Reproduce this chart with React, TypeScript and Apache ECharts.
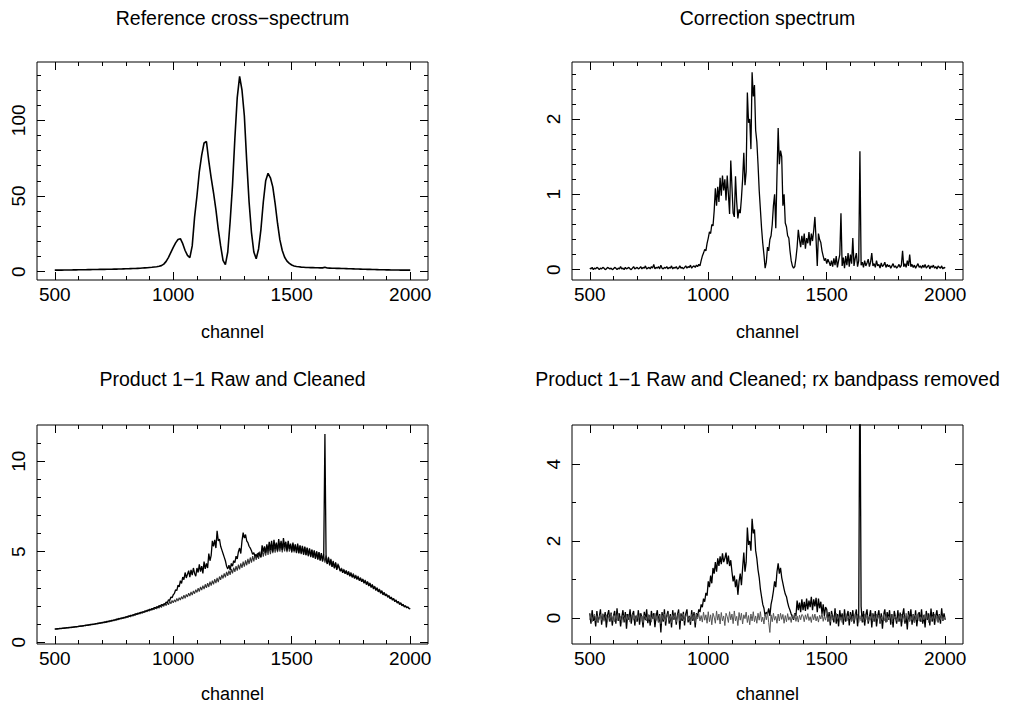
import React, { useEffect, useRef } from 'react';
import * as echarts from 'echarts';

// Every spectrum starts at channel 500; the smooth reference is sampled
// every 10 channels, the noisy spectra every 5 channels.
const CHANNEL_START = 500;

// Reference cross-spectrum (10-channel steps, one row per 100 channels)
const REFERENCE = [
  1.00, 1.00, 1.05, 1.05, 1.10, 1.10, 1.15, 1.15, 1.20, 1.20, // 500
  1.25, 1.25, 1.30, 1.30, 1.35, 1.35, 1.40, 1.40, 1.45, 1.50, // 600
  1.50, 1.55, 1.60, 1.60, 1.65, 1.70, 1.70, 1.75, 1.80, 1.85, // 700
  1.90, 1.95, 2.00, 2.05, 2.10, 2.20, 2.30, 2.40, 2.50, 2.60, // 800
  2.75, 2.90, 3.10, 3.30, 3.60, 4.00, 5.00, 6.80, 9.50, 12.8, // 900
  16.0, 19.0, 21.2, 21.8, 18.5, 14.0, 10.8, 9.3, 17.0, 36.0, // 1000
  50.0, 66.0, 77.0, 85.0, 86.0, 73.0, 62.0, 52.0, 41.0, 28.0, // 1100
  17.0, 7.5, 4.6, 13.0, 33.0, 57.0, 88.0, 115.0, 129.0, 120.0, // 1200
  103.0, 73.0, 46.0, 26.0, 13.0, 8.5, 15.0, 28.0, 46.0, 60.0, // 1300
  65.0, 62.0, 56.0, 45.0, 32.0, 21.0, 14.0, 9.5, 7.0, 5.5, // 1400
  4.4, 3.8, 3.4, 3.2, 3.0, 2.9, 2.8, 2.75, 2.7, 2.65, // 1500
  2.6, 2.55, 2.5, 2.5, 2.9, 2.4, 2.35, 2.3, 2.25, 2.2, // 1600
  2.15, 2.1, 2.05, 2.0, 1.95, 1.9, 1.85, 1.8, 1.75, 1.7, // 1700
  1.65, 1.6, 1.55, 1.5, 1.45, 1.4, 1.35, 1.3, 1.3, 1.25, // 1800
  1.2, 1.2, 1.15, 1.15, 1.1, 1.1, 1.05, 1.05, 1.0, 1.0, // 1900
  1.0, // 2000
];

// Correction spectrum (5-channel steps, one row per 100 channels)
const CORRECTION = [
  0.02, 0.01, 0.03, 0.00, 0.02, 0.01, 0.03, 0.02, 0.00, 0.02, 0.01, 0.03, 0.02, 0.00, 0.01, 0.03, 0.02, 0.01, 0.02, 0.00, // 500
  0.01, 0.03, 0.02, 0.00, 0.02, 0.01, 0.04, 0.01, 0.02, 0.00, 0.03, 0.01, 0.02, 0.03, 0.01, 0.00, 0.02, 0.04, 0.01, 0.02, // 600
  0.03, 0.01, 0.02, 0.04, 0.01, 0.03, 0.02, 0.05, 0.01, 0.02, 0.03, 0.01, 0.04, 0.02, 0.07, 0.01, 0.03, 0.02, 0.04, 0.01, // 700
  0.06, 0.02, 0.01, 0.03, 0.02, 0.04, 0.01, 0.03, 0.02, 0.05, 0.01, 0.03, 0.02, 0.04, 0.01, 0.02, 0.05, 0.02, 0.03, 0.01, // 800
  0.03, 0.05, 0.02, 0.04, 0.03, 0.06, 0.02, 0.04, 0.05, 0.03, 0.06, 0.04, 0.07, 0.05, 0.12, 0.18, 0.22, 0.27, 0.25, 0.35, // 900
  0.42, 0.50, 0.48, 0.60, 0.58, 0.78, 1.08, 0.85, 1.10, 0.90, 1.22, 0.98, 1.25, 1.05, 1.20, 0.92, 1.25, 1.00, 0.74, 1.45, // 1000
  1.10, 0.75, 0.70, 1.24, 0.90, 0.68, 0.80, 0.75, 0.95, 1.20, 1.55, 1.12, 1.30, 2.35, 1.95, 2.00, 1.60, 2.62, 2.30, 2.45, // 1100
  1.85, 1.70, 1.40, 1.05, 0.80, 0.55, 0.35, 0.20, 0.02, 0.10, 0.30, 0.25, 0.40, 0.45, 0.60, 0.85, 1.00, 0.55, 1.25, 1.88, // 1200
  1.40, 1.58, 1.50, 0.85, 1.00, 0.62, 0.57, 0.45, 0.42, 0.25, 0.12, 0.05, 0.02, 0.04, 0.15, 0.30, 0.53, 0.40, 0.30, 0.45, // 1300
  0.33, 0.48, 0.28, 0.42, 0.35, 0.50, 0.32, 0.48, 0.38, 0.52, 0.70, 0.40, 0.05, 0.48, 0.40, 0.36, 0.25, 0.18, 0.12, 0.15, // 1400
  0.08, 0.14, 0.10, 0.05, 0.12, 0.04, 0.15, 0.06, 0.18, 0.03, 0.12, 0.20, 0.75, 0.05, 0.16, 0.02, 0.18, 0.06, 0.22, 0.04, // 1500
  0.20, 0.08, 0.42, 0.05, 0.15, 0.22, 0.04, 0.12, 1.57, 0.06, 0.10, 0.03, 0.12, 0.05, 0.09, 0.14, 0.04, 0.10, 0.22, 0.05, // 1600
  0.08, 0.03, 0.12, 0.05, 0.07, 0.02, 0.09, 0.04, 0.06, 0.10, 0.03, 0.07, 0.04, 0.06, 0.02, 0.05, 0.08, 0.03, 0.05, 0.02, // 1700
  0.04, 0.07, 0.03, 0.06, 0.25, 0.04, 0.08, 0.03, 0.12, 0.05, 0.20, 0.04, 0.07, 0.03, 0.06, 0.02, 0.05, 0.08, 0.03, 0.05, // 1800
  0.02, 0.06, 0.03, 0.07, 0.02, 0.04, 0.06, 0.01, 0.05, 0.03, 0.06, 0.02, 0.04, 0.01, 0.05, 0.03, 0.02, 0.05, 0.01, 0.03, // 1900
  0.02, // 2000
];

// Product 1-1, raw (5-channel steps)
const PRODUCT_RAW = [
  0.73, 0.72, 0.75, 0.73, 0.76, 0.75, 0.77, 0.76, 0.79, 0.78, 0.80, 0.79, 0.82, 0.81, 0.83, 0.82, 0.85, 0.84, 0.86, 0.86, // 500
  0.88, 0.87, 0.90, 0.89, 0.92, 0.91, 0.94, 0.93, 0.96, 0.95, 0.98, 0.97, 1.00, 0.99, 1.02, 1.01, 1.05, 1.03, 1.07, 1.06, // 600
  1.09, 1.08, 1.12, 1.10, 1.15, 1.13, 1.18, 1.16, 1.21, 1.19, 1.24, 1.22, 1.28, 1.25, 1.31, 1.29, 1.34, 1.32, 1.37, 1.35, // 700
  1.41, 1.38, 1.45, 1.42, 1.49, 1.46, 1.52, 1.50, 1.57, 1.54, 1.60, 1.58, 1.65, 1.62, 1.68, 1.66, 1.73, 1.70, 1.77, 1.74, // 800
  1.82, 1.78, 1.86, 1.83, 1.92, 1.87, 1.96, 1.92, 2.02, 1.97, 2.08, 2.03, 2.12, 2.10, 2.22, 2.18, 2.35, 2.30, 2.50, 2.45, // 900
  2.62, 2.70, 2.90, 2.85, 3.15, 3.05, 3.40, 3.25, 3.60, 3.45, 3.85, 3.55, 3.75, 3.95, 3.60, 4.00, 3.70, 4.10, 3.80, 3.65, // 1000
  4.10, 3.85, 4.30, 3.90, 4.20, 3.80, 4.45, 4.05, 4.35, 4.10, 4.90, 4.50, 4.80, 5.60, 5.30, 5.65, 5.20, 6.15, 5.60, 5.70, // 1100
  5.30, 5.10, 4.90, 4.70, 4.50, 4.20, 4.05, 4.25, 4.00, 4.35, 4.20, 4.50, 4.40, 4.75, 4.60, 5.00, 5.20, 4.90, 5.60, 6.05, // 1200
  5.75, 5.95, 5.60, 5.50, 5.30, 5.20, 5.05, 4.85, 4.95, 4.75, 4.85, 4.70, 4.95, 4.80, 4.70, 5.35, 5.00, 5.30, 4.95, 5.40, // 1300
  5.05, 5.55, 5.10, 5.60, 5.00, 5.65, 5.15, 5.50, 5.05, 5.70, 5.20, 5.60, 5.10, 5.75, 5.25, 5.55, 5.05, 5.60, 5.15, 5.45, // 1400
  5.00, 5.50, 5.05, 5.40, 4.95, 5.45, 4.92, 5.35, 4.90, 5.32, 4.85, 5.28, 4.82, 5.22, 4.78, 5.18, 4.72, 5.12, 4.68, 5.08, // 1500
  4.62, 5.02, 4.58, 4.98, 4.52, 4.92, 4.48, 4.86, 11.50, 4.55, 4.32, 4.66, 4.24, 4.56, 4.16, 4.46, 4.08, 4.38, 4.00, 4.26, // 1600
  4.10, 3.92, 4.04, 3.84, 3.98, 3.78, 3.92, 3.72, 3.86, 3.64, 3.80, 3.58, 3.72, 3.52, 3.66, 3.46, 3.60, 3.40, 3.52, 3.34, // 1700
  3.46, 3.26, 3.40, 3.18, 3.32, 3.10, 3.24, 3.02, 3.16, 2.94, 3.06, 2.86, 2.98, 2.78, 2.90, 2.70, 2.82, 2.62, 2.72, 2.56, // 1800
  2.64, 2.48, 2.56, 2.40, 2.48, 2.32, 2.40, 2.24, 2.32, 2.16, 2.24, 2.08, 2.16, 2.01, 2.08, 1.95, 2.00, 1.90, 1.94, 1.86, // 1900
  1.84, // 2000
];

// Product 1-1, cleaned (5-channel steps)
const PRODUCT_CLEAN = [
  0.71, 0.74, 0.72, 0.75, 0.74, 0.77, 0.75, 0.78, 0.76, 0.80, 0.78, 0.81, 0.79, 0.83, 0.80, 0.84, 0.82, 0.86, 0.83, 0.87, // 500
  0.85, 0.89, 0.86, 0.91, 0.88, 0.93, 0.90, 0.95, 0.92, 0.97, 0.94, 0.99, 0.96, 1.01, 0.98, 1.04, 1.00, 1.06, 1.03, 1.08, // 600
  1.05, 1.10, 1.07, 1.13, 1.09, 1.16, 1.12, 1.19, 1.15, 1.22, 1.18, 1.25, 1.21, 1.29, 1.24, 1.32, 1.28, 1.35, 1.31, 1.38, // 700
  1.34, 1.42, 1.37, 1.46, 1.40, 1.50, 1.44, 1.53, 1.48, 1.58, 1.52, 1.61, 1.56, 1.66, 1.60, 1.69, 1.64, 1.74, 1.68, 1.78, // 800
  1.72, 1.83, 1.77, 1.87, 1.80, 1.93, 1.84, 1.97, 1.88, 2.03, 1.92, 2.08, 1.98, 2.14, 2.02, 2.19, 2.07, 2.26, 2.12, 2.30, // 900
  2.18, 2.34, 2.22, 2.42, 2.27, 2.46, 2.33, 2.52, 2.38, 2.60, 2.42, 2.64, 2.50, 2.71, 2.55, 2.78, 2.60, 2.83, 2.68, 2.90, // 1000
  2.75, 2.98, 2.80, 3.05, 2.88, 3.12, 2.93, 3.20, 3.00, 3.26, 3.05, 3.35, 3.12, 3.40, 3.20, 3.48, 3.26, 3.55, 3.32, 3.63, // 1100
  3.45, 3.72, 3.52, 3.80, 3.58, 3.88, 3.66, 3.95, 3.72, 4.05, 3.80, 4.12, 3.88, 4.20, 3.95, 4.28, 4.02, 4.36, 4.10, 4.45, // 1200
  4.18, 4.52, 4.25, 4.60, 4.32, 4.68, 4.40, 4.75, 4.46, 4.85, 4.55, 4.92, 4.60, 5.00, 4.68, 5.08, 4.72, 5.15, 4.78, 5.22, // 1300
  4.82, 5.28, 4.86, 5.30, 4.92, 5.36, 4.95, 5.42, 4.98, 5.40, 5.00, 5.45, 4.96, 5.48, 5.02, 5.42, 4.98, 5.45, 5.00, 5.40, // 1400
  4.95, 5.42, 4.96, 5.38, 4.92, 5.35, 4.90, 5.32, 4.86, 5.30, 4.82, 5.25, 4.80, 5.20, 4.74, 5.15, 4.70, 5.10, 4.65, 5.05, // 1500
  4.60, 5.00, 4.56, 4.95, 4.50, 4.90, 4.45, 4.85, 4.40, 4.78, 4.35, 4.72, 4.26, 4.60, 4.18, 4.50, 4.10, 4.42, 4.04, 4.34, // 1600
  4.18, 3.95, 4.10, 3.88, 4.04, 3.84, 3.98, 3.78, 3.92, 3.70, 3.86, 3.64, 3.80, 3.58, 3.72, 3.52, 3.66, 3.46, 3.58, 3.40, // 1700
  3.50, 3.32, 3.44, 3.24, 3.36, 3.16, 3.28, 3.08, 3.20, 3.00, 3.10, 2.92, 3.02, 2.84, 2.94, 2.76, 2.86, 2.68, 2.76, 2.62, // 1800
  2.66, 2.52, 2.58, 2.44, 2.50, 2.36, 2.42, 2.28, 2.34, 2.20, 2.26, 2.13, 2.18, 2.06, 2.10, 1.99, 2.02, 1.92, 1.95, 1.88, // 1900
  1.86, // 2000
];

// Product 1-1 with the rx bandpass removed, raw (5-channel steps)
const FLAT_RAW = [
  0.12, -0.15, 0.20, -0.08, 0.05, -0.22, 0.18, -0.12, 0.02, 0.22, -0.18, 0.10, -0.05, 0.15, -0.25, 0.08, 0.20, -0.10, 0.14, -0.20, // 500
  0.05, 0.18, -0.15, 0.25, -0.08, 0.12, -0.22, 0.02, 0.20, -0.12, 0.15, -0.28, 0.10, -0.05, 0.22, -0.15, 0.08, 0.18, -0.20, 0.06, // 600
  -0.10, 0.20, -0.18, 0.12, 0.02, -0.25, 0.16, -0.06, 0.22, -0.14, 0.08, -0.20, 0.18, -0.02, 0.12, -0.24, 0.05, 0.20, -0.12, 0.10, // 700
  -0.38, 0.15, -0.10, 0.22, -0.20, 0.06, 0.18, -0.15, 0.10, -0.25, 0.20, -0.05, 0.14, -0.18, 0.08, 0.22, -0.30, 0.12, -0.08, 0.16, // 800
  -0.20, 0.10, 0.22, -0.12, 0.05, -0.18, 0.20, -0.08, 0.15, -0.25, 0.12, 0.02, 0.22, 0.15, 0.35, 0.28, 0.50, 0.42, 0.65, 0.58, // 900
  0.95, 0.80, 1.10, 0.90, 1.30, 1.15, 1.45, 1.20, 1.55, 1.35, 1.60, 1.40, 1.68, 1.45, 1.55, 1.70, 1.40, 1.62, 1.35, 1.50, // 1000
  1.20, 0.95, 1.10, 0.80, 1.00, 0.60, 0.95, 1.15, 0.85, 1.30, 1.70, 1.20, 1.45, 2.35, 1.90, 2.00, 1.75, 2.58, 2.20, 2.30, // 1100
  1.75, 1.55, 1.25, 1.05, 0.75, 0.55, 0.35, 0.25, 0.05, 0.15, 0.10, 0.25, 0.05, 0.35, 0.50, 0.70, 0.95, 0.80, 1.20, 1.42, // 1200
  1.15, 1.30, 1.05, 0.90, 0.75, 0.62, 0.55, 0.40, 0.28, 0.20, 0.10, 0.02, -0.05, 0.12, 0.05, 0.45, 0.20, 0.40, 0.15, 0.48, // 1300
  0.20, 0.42, 0.18, 0.50, 0.22, 0.45, 0.28, 0.55, 0.20, 0.48, 0.30, 0.52, 0.15, 0.50, 0.25, 0.42, 0.10, 0.35, 0.05, 0.28, // 1400
  0.22, -0.10, 0.15, -0.20, 0.18, 0.02, -0.12, 0.25, -0.15, 0.10, -0.22, 0.20, -0.05, 0.12, -0.18, 0.22, -0.10, 0.05, 0.18, -0.20, // 1500
  0.15, -0.08, 0.20, -0.15, 0.05, 0.22, -0.22, 0.10, 6.90, 0.30, -0.12, 0.18, -0.20, 0.08, 0.22, -0.15, 0.02, 0.20, -0.25, 0.12, // 1600
  -0.10, 0.18, -0.22, 0.05, 0.20, -0.15, 0.12, -0.28, 0.08, 0.22, -0.12, 0.15, -0.05, 0.20, -0.18, 0.10, -0.25, 0.18, 0.02, -0.15, // 1700
  0.20, -0.10, 0.14, -0.22, 0.08, 0.25, -0.15, 0.05, -0.30, 0.18, -0.08, 0.22, -0.18, 0.10, -0.12, 0.20, -0.22, 0.06, 0.15, -0.10, // 1800
  0.22, -0.15, 0.08, -0.25, 0.18, -0.05, 0.12, -0.20, 0.24, -0.10, 0.15, -0.18, 0.05, 0.20, -0.12, 0.10, -0.15, 0.25, -0.08, 0.12, // 1900
  -0.05, // 2000
];

// Product 1-1 with the rx bandpass removed, cleaned (5-channel steps)
const FLAT_CLEAN = [
  -0.05, 0.08, -0.10, 0.04, 0.10, -0.08, 0.06, -0.12, 0.02, 0.09, -0.06, 0.11, -0.09, 0.03, 0.08, -0.11, 0.05, -0.04, 0.10, -0.07, // 500
  0.06, -0.10, 0.09, -0.03, 0.12, -0.08, 0.04, -0.12, 0.07, 0.02, -0.09, 0.10, -0.05, 0.08, -0.11, 0.04, 0.09, -0.06, 0.03, -0.10, // 600
  0.08, -0.04, 0.11, -0.09, 0.05, -0.12, 0.07, 0.01, -0.08, 0.10, -0.05, 0.06, -0.11, 0.09, -0.03, 0.12, -0.07, 0.04, -0.10, 0.06, // 700
  -0.15, 0.07, -0.05, 0.10, -0.09, 0.03, 0.11, -0.07, 0.05, -0.12, 0.08, -0.02, 0.09, -0.10, 0.04, 0.12, -0.08, 0.06, -0.04, 0.10, // 800
  -0.08, 0.05, 0.11, -0.06, 0.03, -0.10, 0.09, -0.04, 0.07, -0.12, 0.10, -0.03, 0.12, -0.08, 0.06, -0.11, 0.15, -0.06, 0.08, -0.14, // 900
  0.16, -0.10, 0.08, -0.18, 0.12, 0.02, -0.14, 0.18, -0.06, 0.10, -0.16, 0.14, -0.08, 0.05, -0.20, 0.12, 0.03, -0.12, 0.16, -0.05, // 1000
  0.10, -0.15, 0.18, -0.08, 0.04, -0.20, 0.14, -0.06, 0.12, -0.16, 0.08, -0.02, 0.15, -0.12, 0.06, -0.18, 0.10, -0.08, 0.16, -0.10, // 1100
  0.05, -0.14, 0.12, -0.06, 0.16, -0.10, 0.02, -0.16, 0.10, -0.05, 0.14, -0.12, -0.38, 0.08, -0.10, 0.12, -0.06, 0.04, -0.14, 0.10, // 1200
  -0.08, 0.12, -0.04, 0.09, -0.14, 0.06, -0.10, 0.11, -0.06, 0.03, -0.12, 0.08, -0.02, 0.10, -0.09, 0.05, -0.11, 0.07, -0.05, 0.09, // 1300
  0.06, -0.10, 0.08, -0.04, 0.11, -0.07, 0.03, -0.12, 0.09, -0.05, 0.10, -0.08, 0.04, -0.11, 0.07, -0.03, 0.12, -0.09, 0.05, -0.06, // 1400
  0.09, -0.07, 0.04, -0.11, 0.10, -0.05, 0.06, -0.10, 0.12, -0.04, 0.08, -0.09, 0.03, -0.12, 0.07, -0.06, 0.11, -0.08, 0.05, -0.03, // 1500
  0.08, -0.10, 0.05, -0.07, 0.11, -0.04, 0.09, -0.12, 0.06, -0.08, 0.03, -0.11, 0.10, -0.05, 0.07, -0.09, 0.04, -0.06, 0.12, -0.08, // 1600
  0.05, -0.09, 0.10, -0.04, 0.07, -0.12, 0.03, -0.06, 0.11, -0.08, 0.06, -0.10, 0.04, -0.05, 0.09, -0.11, 0.08, -0.03, 0.05, -0.07, // 1700
  -0.09, 0.06, -0.04, 0.10, -0.11, 0.05, -0.07, 0.12, -0.03, 0.08, -0.10, 0.04, -0.06, 0.09, -0.12, 0.07, -0.05, 0.11, -0.08, 0.03, // 1800
  -0.10, 0.07, -0.05, 0.09, -0.03, 0.11, -0.12, 0.06, -0.08, 0.04, -0.06, 0.10, -0.09, 0.05, -0.11, 0.08, -0.04, 0.06, -0.07, 0.03, // 1900
  -0.02, // 2000
];

// Axis ticks
const X_MIN = 425;
const X_MAX = 2075;
const X_MAJOR = [500, 1000, 1500, 2000];
const X_MINOR = [600, 700, 800, 900, 1100, 1200, 1300, 1400, 1600, 1700, 1800, 1900];

const FONT = '"Liberation Sans", Arial, sans-serif';
const INK = '#000';

type Line = { values: number[]; step: number; color: string; width: number };
type Panel = {
  title: string;
  grid: { left: number; top: number; width: number; height: number };
  titleY: number;
  yMin: number;
  yMax: number;
  yMajor: number[];
  yMinor: number[];
  nameGap: number;
  lines: Line[];
};

const PANELS: Panel[] = [
  {
    title: 'Reference cross\u2212spectrum',
    grid: { left: 37, top: 62, width: 391, height: 218 },
    titleY: 18,
    yMin: -5.5,
    yMax: 138.5,
    yMajor: [0, 50, 100],
    yMinor: [10, 20, 30, 40, 60, 70, 80, 90, 110, 120, 130],
    nameGap: 43,
    lines: [{ values: REFERENCE, step: 10, color: INK, width: 1.6 }],
  },
  {
    title: 'Correction spectrum',
    grid: { left: 572, top: 62, width: 391, height: 218 },
    titleY: 18,
    yMin: -0.137,
    yMax: 2.756,
    yMajor: [0, 1, 2],
    yMinor: [0.2, 0.4, 0.6, 0.8, 1.2, 1.4, 1.6, 1.8, 2.2, 2.4, 2.6],
    nameGap: 43,
    lines: [{ values: CORRECTION, step: 5, color: INK, width: 1.3 }],
  },
  {
    title: 'Product 1\u22121 Raw and Cleaned',
    grid: { left: 37, top: 425, width: 391, height: 219 },
    titleY: 379,
    yMin: -0.1,
    yMax: 12.0,
    yMajor: [0, 5, 10],
    yMinor: [1, 2, 3, 4, 6, 7, 8, 9, 11],
    nameGap: 41,
    lines: [
      { values: PRODUCT_CLEAN, step: 5, color: '#333', width: 1.1 },
      { values: PRODUCT_RAW, step: 5, color: INK, width: 1.3 },
    ],
  },
  {
    title: 'Product 1\u22121 Raw and Cleaned; rx bandpass removed',
    grid: { left: 572, top: 425, width: 391, height: 219 },
    titleY: 379,
    yMin: -0.68,
    yMax: 5.02,
    yMajor: [0, 2, 4],
    yMinor: [1, 3],
    nameGap: 41,
    lines: [
      { values: FLAT_RAW, step: 5, color: INK, width: 1.3 },
      { values: FLAT_CLEAN, step: 5, color: '#555', width: 1 },
    ],
  },
];

const toPoints = (values: number[], step: number) =>
  values.map((v, i) => [CHANNEL_START + step * i, v]);

const labelText = { color: INK, fontSize: 19, fontFamily: FONT };
const tickLine = { color: INK, width: 1 };

function tickAxis(base: any, position: string, values: number[], length: number, label: boolean, extra: any = {}) {
  return {
    ...base,
    position,
    axisLine: { show: false, onZero: false },
    splitLine: { show: false },
    axisTick: { show: true, inside: true, length, customValues: values, lineStyle: tickLine },
    axisLabel: label
      ? { show: true, customValues: values, formatter: (v: number) => String(v), ...labelText, ...extra }
      : { show: false },
  };
}

function buildOption() {
  const grid: any[] = [];
  const xAxis: any[] = [];
  const yAxis: any[] = [];
  const series: any[] = [];
  const graphic: any[] = [];

  PANELS.forEach((p, gi) => {
    grid.push({ ...p.grid, show: true, borderColor: INK, borderWidth: 1, backgroundColor: 'transparent', containLabel: false });

    const xb = { gridIndex: gi, type: 'value', min: X_MIN, max: X_MAX };
    const xMain: any = tickAxis(xb, 'bottom', X_MAJOR, 8, true, { margin: 5 });
    xMain.name = 'channel';
    xMain.nameLocation = 'middle';
    xMain.nameGap = p.nameGap;
    xMain.nameTextStyle = { color: INK, fontSize: 18, fontFamily: FONT };
    xAxis.push(
      xMain,
      tickAxis(xb, 'bottom', X_MINOR, 4, false),
      tickAxis(xb, 'top', X_MAJOR, 8, false),
      tickAxis(xb, 'top', X_MINOR, 4, false),
    );

    const yb = { gridIndex: gi, type: 'value', min: p.yMin, max: p.yMax };
    yAxis.push(
      tickAxis(yb, 'left', p.yMajor, 8, true, { rotate: 90, margin: 9 }),
      tickAxis(yb, 'left', p.yMinor, 4, false),
      tickAxis(yb, 'right', p.yMajor, 8, false),
      tickAxis(yb, 'right', p.yMinor, 4, false),
    );

    p.lines.forEach((ln) => {
      series.push({
        type: 'line',
        xAxisIndex: gi * 4,
        yAxisIndex: gi * 4,
        data: toPoints(ln.values, ln.step),
        showSymbol: false,
        symbol: 'none',
        clip: true,
        lineStyle: { color: ln.color, width: ln.width },
        itemStyle: { color: ln.color },
        emphasis: { disabled: true },
        silent: true,
      });
    });

    graphic.push({
      type: 'text',
      x: p.grid.left + p.grid.width / 2,
      y: p.titleY,
      style: { text: p.title, fill: INK, fontSize: 19.5, fontFamily: FONT, textAlign: 'center', textVerticalAlign: 'middle' },
    });
  });

  return {
    animation: false,
    backgroundColor: '#fff',
    grid,
    xAxis,
    yAxis,
    series,
    graphic,
  };
}

export default function App() {
  const ref = useRef<HTMLDivElement>(null);

  useEffect(() => {
    if (!ref.current) return;
    const chart = echarts.init(ref.current, undefined, { renderer: 'svg' });
    chart.setOption(buildOption() as any);
    return () => chart.dispose();
  }, []);

  return (
    <div
      ref={ref}
      style={{ position: 'absolute', left: 0, top: 0, width: 1013, height: 709, background: '#fff' }}
    />
  );
}
